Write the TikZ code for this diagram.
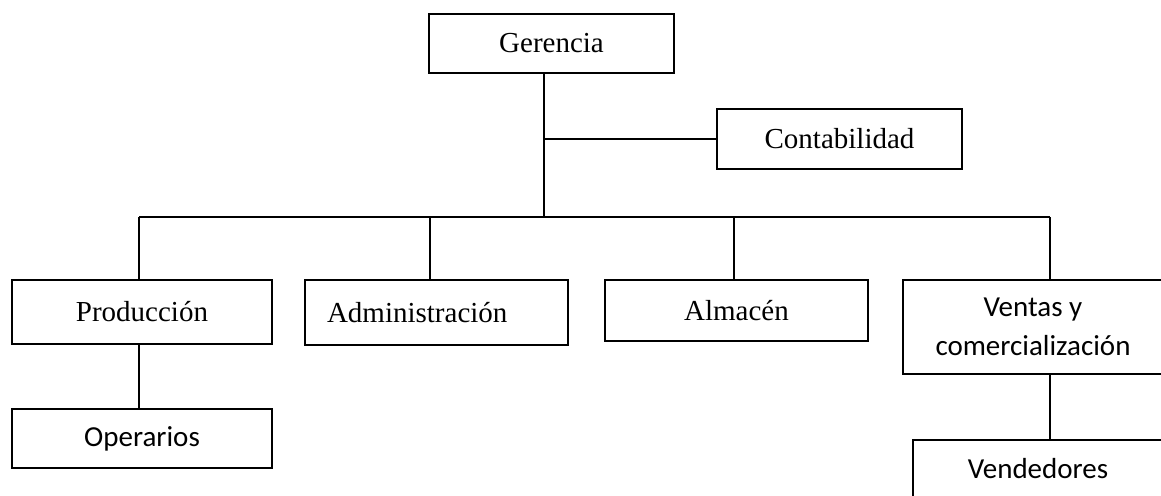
\documentclass[tikz,border=0pt]{standalone}
\usepackage{fontspec}
\setmainfont{Liberation Serif}
\newfontfamily\calibri{Carlito}
\begin{document}
\begin{tikzpicture}[x=1pt,y=-1pt,
  box/.style={draw=black, line width=1.4pt, inner sep=0pt, align=center,
    font=\fontsize{29}{39}\selectfont},
  cal/.style={font=\fontsize{29}{39}\selectfont\calibri},
  conn/.style={draw=black, line width=1.1pt}]
\useasboundingbox (0,0) rectangle (1161,495);
\clip (0,0) rectangle (1161,495);
\fill[white] (0,0) rectangle (1161,495);
% boxes
\node[box, minimum width=245pt, minimum height=59pt] (ger) at (551.5,43.5) {Gerencia};
\node[box, minimum width=245pt, minimum height=60pt] (conta) at (839.5,139) {Contabilidad};
\node[box, minimum width=260pt, minimum height=64pt] (prod) at (142,312) {Producción};
\node[box, minimum width=263pt, minimum height=65pt, text width=219pt, align=left, inner xsep=22pt] (admin) at (436.5,312.5) {Administración};
\node[box, minimum width=263pt, minimum height=61pt] (alm) at (736.5,310.5) {Almacén};
\node[box, cal, minimum width=260pt, minimum height=94pt] (ventas) at (1033,327) {Ventas y\\comercialización};
\node[box, cal, minimum width=260pt, minimum height=59pt] (oper) at (142,438.5) {Operarios};
\node[box, cal, minimum width=250pt, minimum height=58pt] (vend) at (1038,469) {Vendedores};
% connector points
\coordinate (gbus) at (544,217);
\coordinate (bl) at (139,217);
\coordinate (ba) at (430,217);
\coordinate (bm) at (734,217);
\coordinate (br) at (1050,217);
% connectors
\draw[conn] (ger.south -| gbus) -- (gbus);
\draw[conn] (conta.west -| gbus) -- (conta.west);
\draw[conn] (bl) -- (br);
\draw[conn] (bl) -- (bl |- prod.north);
\draw[conn] (ba) -- (ba |- admin.north);
\draw[conn] (bm) -- (bm |- alm.north);
\draw[conn] (br) -- (br |- ventas.north);
\draw[conn] (prod.south -| bl) -- (oper.north -| bl);
\draw[conn] (ventas.south -| br) -- (vend.north -| br);
\end{tikzpicture}
\end{document}
